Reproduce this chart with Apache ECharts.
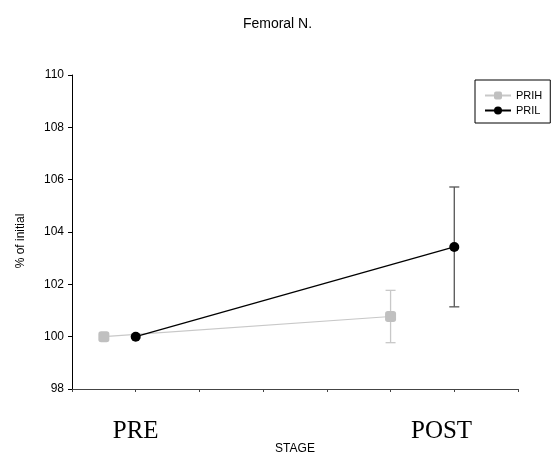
<!DOCTYPE html>
<html>
<head>
<meta charset="utf-8">
<script src="https://cdn.jsdelivr.net/npm/echarts@6/dist/echarts.min.js"></script>
<style>
  html, body { margin: 0; padding: 0; background: #fff; }
  #chart { width: 555px; height: 460px; }
</style>
</head>
<body>
<div id="chart"></div>
<script>
// stage positions on the x scale (PRE / POST), one per group
const stageLabels = ['PRE', 'POST'];
const stagePos = [1, 5.8];
const prihX = [0.5, 5];
const prilX = [1, 6];

// % of initial, mean and error
const prihMean = [100, 100.77];
const prihErr = [0, 1.0];
const prilMean = [100, 103.43];
const prilErr = [0, 2.29];

const yTicks = [98, 100, 102, 104, 106, 108, 110];

const myChart = echarts.init(document.getElementById('chart'));

function pairs(xs, ys) {
  return xs.map((x, i) => [x, ys[i]]);
}

function errData(xs, ys, es) {
  return xs.map((x, i) => [x, ys[i] - es[i], ys[i] + es[i]]).filter((d, i) => es[i] > 0);
}

function errRender(color) {
  return function (params, api) {
    const x = api.value(0);
    const lo = api.coord([x, api.value(1)]);
    const hi = api.coord([x, api.value(2)]);
    const w = 5;
    const style = { stroke: color, lineWidth: 1.3 };
    return {
      type: 'group',
      children: [
        { type: 'line', shape: { x1: lo[0], y1: lo[1], x2: hi[0], y2: hi[1] }, style },
        { type: 'line', shape: { x1: hi[0] - w, y1: hi[1], x2: hi[0] + w, y2: hi[1] }, style },
        { type: 'line', shape: { x1: lo[0] - w, y1: lo[1], x2: lo[0] + w, y2: lo[1] }, style }
      ]
    };
  };
}

let option = {
  animation: false,
  title: {
    text: 'Femoral N.',
    left: 'center',
    top: 12,
    textStyle: { fontFamily: 'Liberation Sans', fontSize: 14, fontWeight: 'normal', color: '#000' }
  },
  legend: {
    left: 475,
    top: 80,
    orient: 'vertical',
    borderColor: '#000',
    borderWidth: 1,
    borderRadius: 0,
    padding: [10, 8, 7, 9],
    itemGap: 4,
    itemWidth: 26,
    itemHeight: 10,
    textStyle: { fontFamily: 'Liberation Sans', fontSize: 11, color: '#000' },
    data: ['PRIH', 'PRIL']
  },
  grid: { left: 72, top: 75, right: 37, bottom: 65 },
  xAxis: [
    {
      type: 'value',
      min: 0,
      max: 7,
      interval: 1,
      name: 'STAGE',
      nameLocation: 'middle',
      nameGap: 54,
      nameTextStyle: { fontFamily: 'Liberation Sans', fontSize: 12, color: '#000' },
      axisLine: { lineStyle: { color: '#444', width: 1 } },
      axisTick: { show: true, inside: false, length: 3, lineStyle: { color: '#444' } },
      axisLabel: { show: false },
      splitLine: { show: false }
    },
    {
      type: 'value',
      min: 0,
      max: 7,
      position: 'bottom',
      axisLine: { show: false },
      axisTick: { show: false },
      splitLine: { show: false },
      axisLabel: {
        customValues: stagePos,
        margin: 30,
        fontFamily: 'Liberation Serif',
        fontSize: 25,
        color: '#000',
        formatter: v => stageLabels[stagePos.indexOf(v)]
      }
    }
  ],
  yAxis: {
    type: 'value',
    min: yTicks[0],
    max: yTicks[yTicks.length - 1],
    interval: 2,
    name: '% of initial',
    nameLocation: 'middle',
    nameGap: 45,
    nameTextStyle: { fontFamily: 'Liberation Sans', fontSize: 12, color: '#000', padding: [0, 18, 0, 0] },
    axisLine: { show: true, lineStyle: { color: '#000', width: 1 } },
    axisTick: { show: true, inside: false, length: 4, lineStyle: { color: '#000' } },
    axisLabel: { fontFamily: 'Liberation Sans', fontSize: 12, color: '#000', margin: 8 },
    splitLine: { show: false }
  },
  series: [
    {
      name: 'PRIH',
      type: 'line',
      data: pairs(prihX, prihMean),
      symbol: 'roundRect',
      symbolSize: 11,
      lineStyle: { color: '#c8c8c8', width: 1.2 },
      itemStyle: { color: '#c0c0c0' },
      z: 3
    },
    {
      name: 'PRIH',
      type: 'custom',
      renderItem: errRender('#c8c8c8'),
      data: errData(prihX, prihMean, prihErr),
      encode: { x: 0, y: [1, 2] },
      z: 2
    },
    {
      name: 'PRIL',
      type: 'line',
      data: pairs(prilX, prilMean),
      symbol: 'circle',
      symbolSize: 10,
      lineStyle: { color: '#000', width: 1.3 },
      itemStyle: { color: '#000' },
      z: 4
    },
    {
      name: 'PRIL',
      type: 'custom',
      renderItem: errRender('#555'),
      data: errData(prilX, prilMean, prilErr),
      encode: { x: 0, y: [1, 2] },
      z: 2
    }
  ]
};

myChart.setOption(option);
</script>
</body>
</html>
